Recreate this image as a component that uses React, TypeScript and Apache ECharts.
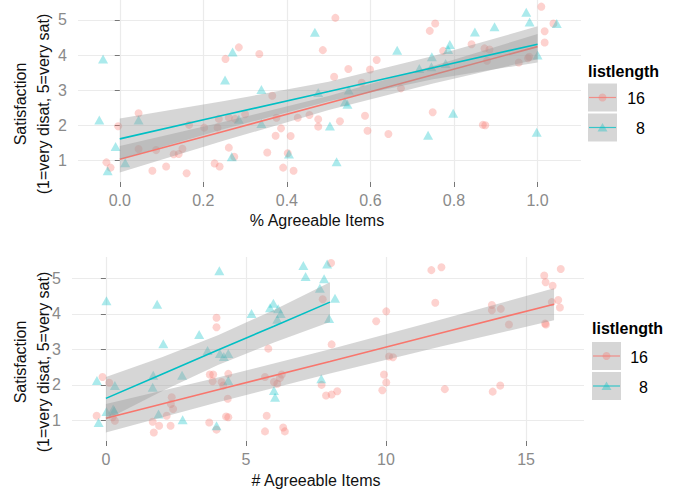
import React, { useEffect, useRef } from "react";
import * as echarts from "echarts";

const RED = "#F8766D";
const TEAL = "#00BFC4";
const FONT = "Liberation Sans, Arial, Helvetica, sans-serif";

// ---------- Top panel: % Agreeable Items ----------
const pctX16 = [-0.032, -0.022, -0.004, 0.045, 0.045, 0.087, 0.078, 0.111, 0.129, 0.141, 0.15, 0.16, 0.166, 0.202, 0.227, 0.239, 0.234, 0.237, 0.253, 0.261, 0.261, 0.276, 0.274, 0.285, 0.3, 0.334, 0.353, 0.365, 0.375, 0.373, 0.386, 0.391, 0.409, 0.416, 0.402, 0.426, 0.454, 0.475, 0.475, 0.486, 0.516, 0.513, 0.527, 0.547, 0.579, 0.587, 0.593, 0.599, 0.615, 0.643, 0.673, 0.742, 0.755, 0.749, 0.774, 0.842, 0.869, 0.875, 0.873, 0.885, 0.879, 0.955, 0.977, 0.98, 1.009, 1.017, 1.017, 1.038];
const pctY16 = [0.94, 0.79, 1.97, 2.34, 1.32, 1.29, 0.7, 0.82, 1.17, 1.18, 1.33, 0.63, 2.01, 1.93, 0.91, 0.82, 1.93, 2.18, 3.89, 1.36, 2.22, 2.18, 1.1, 4.22, 2.31, 4.03, 1.22, 2.84, 2.21, 1.7, 1.91, 0.79, 1.69, 0.7, 1.2, 2.21, 2.29, 2.17, 1.96, 4.14, 5.06, 3.38, 2.11, 3.6, 3.21, 2.27, 1.84, 3.59, 3.86, 1.75, 3.05, 4.69, 4.9, 2.37, 4.12, 4.31, 2.01, 2.0, 4.19, 4.16, 3.84, 3.79, 3.91, 3.95, 5.38, 4.68, 4.36, 4.9];
const pctX8 = [-0.04, -0.049, -0.01, -0.029, 0.013, 0.045, 0.252, 0.27, 0.285, 0.268, 0.339, 0.339, 0.405, 0.467, 0.475, 0.503, 0.519, 0.548, 0.539, 0.545, 0.664, 0.717, 0.746, 0.747, 0.738, 0.78, 0.786, 0.79, 0.798, 0.85, 0.897, 0.973, 0.981, 1.0, 0.998, 1.046];
const pctY8 = [3.89, 2.15, 1.39, 0.7, 0.93, 2.15, 3.29, 4.09, 2.17, 1.1, 3.02, 2.05, 1.18, 4.65, 2.93, 1.98, 0.96, 3.0, 2.67, 2.6, 4.14, 3.62, 3.67, 3.95, 1.71, 3.76, 4.16, 4.3, 2.34, 4.66, 4.81, 5.22, 4.94, 4.0, 1.8, 4.9];
const pctFitX = [0, 0.25, 0.5, 0.75, 1.0];
const pctFit16 = [1.03, 1.83, 2.63, 3.44, 4.24];
const pctLo16 = [0.65, 1.56, 2.43, 3.19, 3.88];
const pctHi16 = [1.41, 2.1, 2.83, 3.69, 4.6];
const pctFit8 = [1.61, 2.29, 2.96, 3.64, 4.31];
const pctLo8 = [1.03, 1.89, 2.68, 3.31, 3.79];
const pctHi8 = [2.19, 2.69, 3.24, 3.97, 4.82];
const pctTicks = [0, 0.2, 0.4, 0.6, 0.8, 1.0];

// ---------- Bottom panel: # Agreeable Items ----------
const numX16 = [-0.33, -0.12, 0.12, 0.24, 0.32, 1.71, 1.67, 1.9, 2.17, 2.32, 2.35, 2.4, 2.31, 3.69, 3.95, 3.95, 3.71, 3.83, 3.81, 4.13, 4.19, 4.37, 4.35, 3.95, 4.29, 4.37, 5.68, 5.8, 5.74, 5.68, 6.0, 6.12, 6.21, 6.28, 6.33, 6.39, 7.7, 7.74, 8.04, 8.06, 7.86, 8.06, 8.26, 9.65, 10.01, 10.11, 10.25, 9.93, 10.01, 9.87, 11.62, 11.98, 11.76, 12.1, 13.78, 13.78, 14.1, 14.39, 13.81, 14.08, 15.65, 15.7, 16.24, 15.95, 15.92, 16.15, 16.21, 15.68, 15.71];
const numY16 = [1.13, 2.22, 2.06, 1.09, 0.99, 0.66, 0.96, 0.85, 1.13, 1.46, 1.65, 1.32, 0.85, 0.94, 3.89, 3.62, 2.29, 2.29, 2.1, 2.08, 1.98, 2.31, 1.61, 0.74, 1.11, 1.09, 2.22, 3.02, 1.13, 0.69, 2.08, 2.03, 2.19, 2.29, 0.8, 0.69, 2.0, 4.41, 5.43, 3.14, 1.7, 1.73, 1.82, 3.79, 4.07, 2.8, 2.78, 2.29, 2.07, 1.85, 5.23, 5.31, 4.31, 1.88, 4.25, 4.1, 4.14, 3.7, 1.81, 1.98, 5.08, 4.89, 5.26, 4.79, 4.33, 4.39, 4.18, 3.73, 3.7];
const numX8 = [-0.32, -0.26, 0.02, 0.02, 0.32, 0.26, 0.3, 1.83, 1.69, 1.67, 1.88, 2.05, 2.72, 2.74, 3.33, 3.63, 3.95, 4.05, 4.07, 4.21, 4.37, 4.37, 5.2, 5.86, 5.98, 6.15, 6.24, 6.12, 6.0, 6.04, 7.05, 7.13, 7.64, 7.79, 7.9, 7.97, 7.69, 8.18];
const numY8 = [2.12, 0.94, 4.37, 1.25, 1.98, 1.32, 1.28, 4.27, 2.27, 1.93, 1.18, 3.16, 2.27, 1.02, 3.42, 2.97, 0.85, 5.21, 2.88, 2.8, 2.88, 2.12, 4.01, 4.17, 4.3, 4.14, 4.01, 3.85, 1.84, 1.65, 5.36, 5.05, 4.72, 4.99, 5.4, 3.87, 2.17, 4.44];
const numFitX16 = [0, 4, 8, 12, 16];
const numFit16 = [1.06, 1.86, 2.66, 3.47, 4.27];
const numLo16 = [0.66, 1.51, 2.32, 3.09, 3.82];
const numHi16 = [1.46, 2.21, 3.0, 3.85, 4.72];
const numFitX8 = [0, 2, 4, 6, 8];
const numFit8 = [1.62, 2.3, 2.98, 3.65, 4.33];
const numLo8 = [1.02, 1.82, 2.56, 3.19, 3.77];
const numHi8 = [2.22, 2.78, 3.4, 4.11, 4.89];
const numTicks = [0, 5, 10, 15];

const satTicks = [1, 2, 3, 4, 5];
const legendLabels = ["16", "8"];

const pairs = (xs: number[], ys: number[]) => xs.map((x, i) => [x, ys[i]]);

function band(xi: number, xs: number[], lo: number[], hi: number[], z: number) {
  return {
    type: "custom",
    xAxisIndex: xi,
    yAxisIndex: xi,
    z,
    silent: true,
    data: xs.map((x, i) => [x, lo[i], hi[i]]),
    encode: { x: 0, y: [1, 2] },
    renderItem: (params: any, api: any) => {
      if (params.dataIndex !== 0) return null;
      const pts: number[][] = [];
      for (let i = 0; i < xs.length; i++) pts.push(api.coord([xs[i], hi[i]]));
      for (let i = xs.length - 1; i >= 0; i--) pts.push(api.coord([xs[i], lo[i]]));
      return { type: "polygon", shape: { points: pts }, style: { fill: "rgba(153,153,153,0.4)" } };
    },
  };
}

function fitLine(xi: number, xs: number[], ys: number[], color: string, z: number) {
  return {
    type: "line",
    xAxisIndex: xi,
    yAxisIndex: xi,
    z,
    silent: true,
    showSymbol: false,
    data: pairs(xs, ys),
    lineStyle: { color, width: 1.6 },
  };
}

function scatter(xi: number, xs: number[], ys: number[], color: string, symbol: string, size: any) {
  return {
    type: "scatter",
    xAxisIndex: xi,
    yAxisIndex: xi,
    z: 2,
    silent: true,
    symbol,
    symbolSize: size,
    data: pairs(xs, ys),
    itemStyle: { color, opacity: 0.33 },
  };
}

function xAxisCfg(gi: number, min: number, max: number, ticks: number[], fmt: (v: number) => string) {
  return {
    type: "value",
    gridIndex: gi,
    min,
    max,
    offset: 0,
    axisLine: { show: false },
    axisTick: { show: true, customValues: ticks, length: 5, lineStyle: { color: "#777", width: 1 } },
    axisLabel: { customValues: ticks, formatter: (v: number) => fmt(v), color: "#8a8a8a", fontSize: 16, fontFamily: FONT, margin: 10 },
    splitLine: { show: true, lineStyle: { color: "#ebebeb", width: 1.2 } },
  };
}

function yAxisCfg(gi: number, min: number, max: number) {
  return {
    type: "value",
    gridIndex: gi,
    min,
    max,
    axisLine: { show: false },
    axisTick: { show: true, customValues: satTicks, length: 5, lineStyle: { color: "#777", width: 1 } },
    axisLabel: { customValues: satTicks, color: "#8a8a8a", fontSize: 16, fontFamily: FONT, margin: 11 },
    splitLine: { show: true, lineStyle: { color: "#ebebeb", width: 1.2 } },
  };
}

function legendGraphics(x0: number, yTitle: number, yBox: number, labelRight: number) {
  const els: any[] = [];
  els.push({ type: "text", x: x0, y: yTitle, style: { text: "listlength", font: `bold 16px ${FONT}`, fill: "#000", textAlign: "left", textVerticalAlign: "middle" } });
  const colors = [RED, TEAL];
  for (let k = 0; k < 2; k++) {
    const top = yBox + k * 30;
    const cy = top + 14;
    const cx = x0 + 14.5;
    els.push({ type: "rect", shape: { x: x0, y: top, width: 29, height: 28 }, style: { fill: "#d6d6d6" } });
    els.push({ type: "line", shape: { x1: x0 + 1, y1: cy, x2: x0 + 28, y2: cy }, style: { stroke: colors[k], lineWidth: 1.2, opacity: 0.75 } });
    if (k === 0) {
      els.push({ type: "circle", shape: { cx, cy, r: 4 }, style: { fill: RED, opacity: 0.35 } });
    } else {
      els.push({ type: "polygon", shape: { points: [[cx, cy - 4.5], [cx + 5, cy + 4], [cx - 5, cy + 4]] }, style: { fill: TEAL, opacity: 0.35 } });
    }
    els.push({ type: "text", x: labelRight, y: cy + 1, style: { text: legendLabels[k], font: `16px ${FONT}`, fill: "#000", textAlign: "right", textVerticalAlign: "middle" } });
  }
  return els;
}

function yTitle(cy: number) {
  return [
    { type: "text", x: 20, y: cy, rotation: Math.PI / 2, style: { text: "Satisfaction", font: `16px ${FONT}`, fill: "#111", textAlign: "center", textVerticalAlign: "middle" } },
    { type: "text", x: 43, y: cy, rotation: Math.PI / 2, style: { text: "(1=very disat, 5=very sat)", font: `16px ${FONT}`, fill: "#111", textAlign: "center", textVerticalAlign: "middle" } },
  ];
}

export default function App() {
  const ref = useRef<HTMLDivElement>(null);
  useEffect(() => {
    document.body.style.margin = "0";
    if (!ref.current) return;
    const chart = echarts.init(ref.current, undefined, { renderer: "svg" });
    chart.setOption({
      animation: false,
      backgroundColor: "#fff",
      grid: [
        { left: 78, top: 0, width: 503, height: 182, containLabel: false },
        { left: 72, top: 257, width: 512, height: 184, containLabel: false },
      ],
      xAxis: [
        xAxisCfg(0, -0.1, 1.104, pctTicks, (v) => v.toFixed(1)),
        xAxisCfg(1, -1.21, 17.07, numTicks, (v) => String(Math.round(v))),
      ],
      yAxis: [yAxisCfg(0, 0.38, 5.57), yAxisCfg(1, 0.42, 5.6)],
      series: [
        scatter(0, pctX16, pctY16, RED, "circle", 8),
        scatter(0, pctX8, pctY8, TEAL, "triangle", [10, 9]),
        band(0, pctFitX, pctLo16, pctHi16, 3),
        fitLine(0, pctFitX, pctFit16, RED, 4),
        band(0, pctFitX, pctLo8, pctHi8, 5),
        fitLine(0, pctFitX, pctFit8, TEAL, 6),
        scatter(1, numX16, numY16, RED, "circle", 8),
        scatter(1, numX8, numY8, TEAL, "triangle", [10, 9]),
        band(1, numFitX16, numLo16, numHi16, 3),
        fitLine(1, numFitX16, numFit16, RED, 4),
        band(1, numFitX8, numLo8, numHi8, 5),
        fitLine(1, numFitX8, numFit8, TEAL, 6),
      ],
      graphic: [
        ...yTitle(104),
        ...yTitle(362),
        { type: "text", x: 317, y: 220, style: { text: "% Agreeable Items", font: `16px ${FONT}`, fill: "#111", textAlign: "center", textVerticalAlign: "middle" } },
        { type: "text", x: 316, y: 480, style: { text: "# Agreeable Items", font: `16px ${FONT}`, fill: "#111", textAlign: "center", textVerticalAlign: "middle" } },
        ...legendGraphics(588, 71, 83.5, 645),
        ...legendGraphics(592, 328, 342, 648),
      ],
    });
    return () => chart.dispose();
  }, []);
  return <div ref={ref} style={{ width: 676, height: 489 }} />;
}
